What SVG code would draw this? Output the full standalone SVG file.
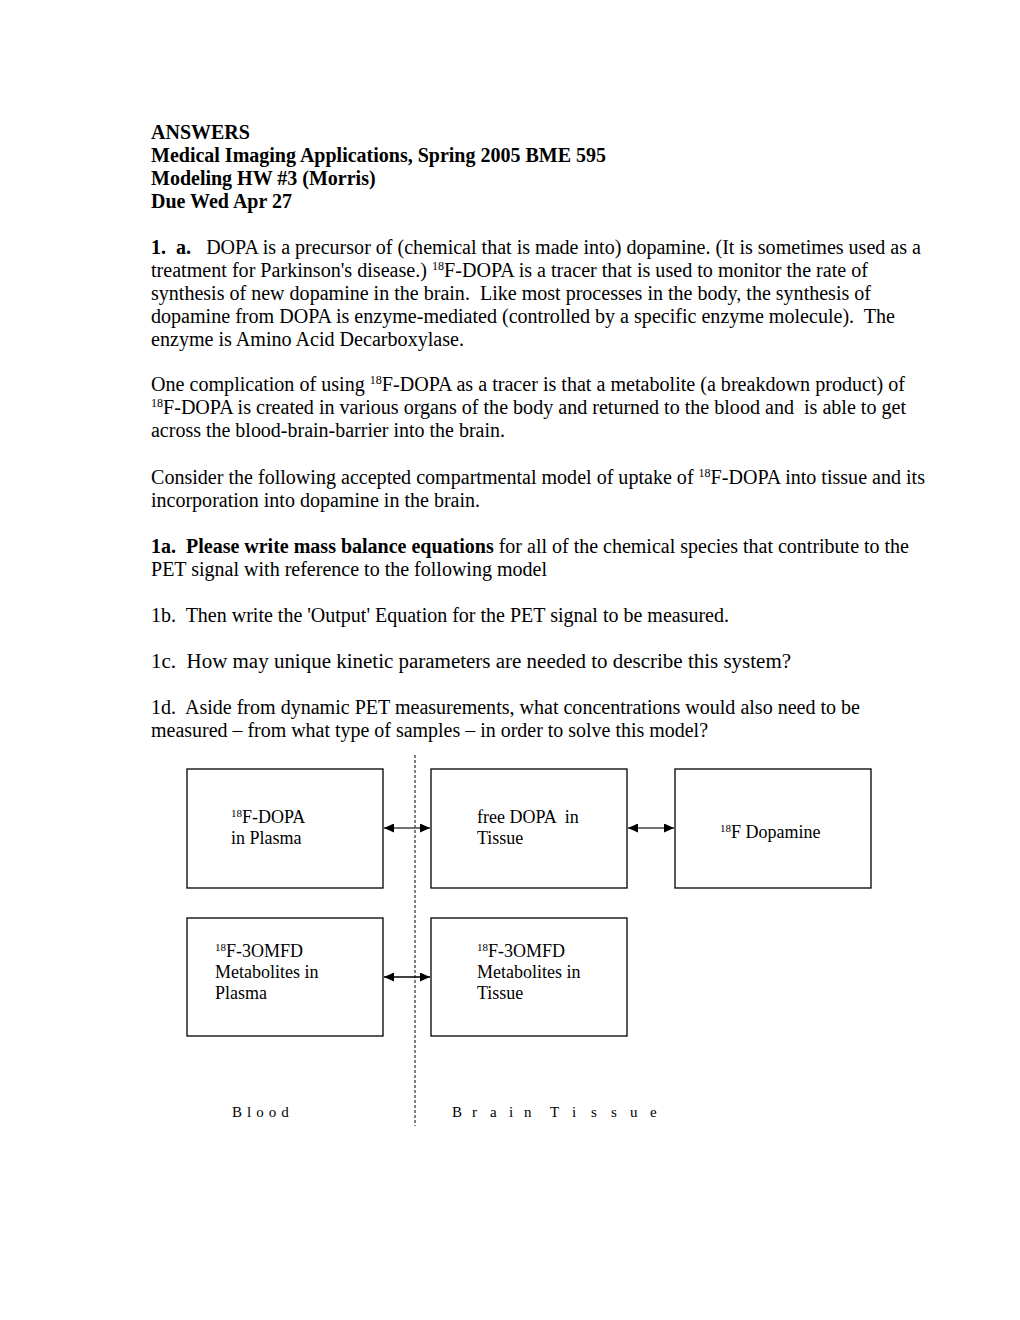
<svg xmlns="http://www.w3.org/2000/svg" width="1020" height="1320" viewBox="0 0 1020 1320">
<defs>
<style>
text{font-family:"Liberation Serif","Times New Roman",serif;fill:#000;white-space:pre}
.t{font-size:20px}
.b{font-weight:bold}
.s{font-size:12px}
.s2{font-size:11px}
.n{font-size:18px}
.box{fill:#fff;stroke:#000;stroke-width:1.3}
.con{stroke:#444;stroke-width:1.6;fill:none}
.sep{stroke:#000;stroke-width:1;stroke-dasharray:3,2;fill:none}
.lab{font-size:15px;letter-spacing:5px}
</style>
<marker id="ah" viewBox="0 0 10 10" refX="10" refY="5" markerWidth="10" markerHeight="9" orient="auto-start-reverse" markerUnits="userSpaceOnUse" preserveAspectRatio="none"><path d="M0,0 L10,5 L0,10 z" fill="#000"/></marker>
</defs>
<rect width="1020" height="1320" fill="#fff"/>
<g id="header" class="t b">
<text x="151" y="139">ANSWERS</text>
<text x="151" y="162">Medical Imaging Applications, Spring 2005 BME 595</text>
<text x="151" y="185">Modeling HW #3 (Morris)</text>
<text x="151" y="208">Due Wed Apr 27</text>
</g>
<g id="body" class="t" xml:space="preserve">
<text x="151" y="254" textLength="770" lengthAdjust="spacingAndGlyphs"><tspan class="b">1.  a.</tspan>   DOPA is a precursor of (chemical that is made into) dopamine. (It is sometimes used as a</text>
<text x="151" y="277" textLength="717" lengthAdjust="spacingAndGlyphs">treatment for Parkinson's disease.) <tspan class="s" dy="-7">18</tspan><tspan dy="7">F-DOPA is a tracer that is used to monitor the rate of</tspan></text>
<text x="151" y="300" textLength="720" lengthAdjust="spacingAndGlyphs">synthesis of new dopamine in the brain.  Like most processes in the body, the synthesis of</text>
<text x="151" y="323" textLength="744" lengthAdjust="spacingAndGlyphs">dopamine from DOPA is enzyme-mediated (controlled by a specific enzyme molecule).  The</text>
<text x="151" y="346" textLength="313" lengthAdjust="spacingAndGlyphs">enzyme is Amino Acid Decarboxylase.</text>
<text x="151" y="391" textLength="754" lengthAdjust="spacingAndGlyphs">One complication of using <tspan class="s" dy="-7">18</tspan><tspan dy="7">F-DOPA as a tracer is that a metabolite (a breakdown product) of</tspan></text>
<text x="151" y="414" textLength="755" lengthAdjust="spacingAndGlyphs"><tspan class="s" dy="-7">18</tspan><tspan dy="7">F-DOPA is created in various organs of the body and returned to the blood and  is able to get</tspan></text>
<text x="151" y="437" textLength="354" lengthAdjust="spacingAndGlyphs">across the blood-brain-barrier into the brain.</text>
<text x="151" y="484" textLength="774" lengthAdjust="spacingAndGlyphs">Consider the following accepted compartmental model of uptake of <tspan class="s" dy="-7">18</tspan><tspan dy="7">F-DOPA into tissue and its</tspan></text>
<text x="151" y="507" textLength="329" lengthAdjust="spacingAndGlyphs">incorporation into dopamine in the brain.</text>
<text x="151" y="553" textLength="758" lengthAdjust="spacingAndGlyphs"><tspan class="b">1a.  Please write mass balance equations</tspan> for all of the chemical species that contribute to the</text>
<text x="151" y="576" textLength="396" lengthAdjust="spacingAndGlyphs">PET signal with reference to the following model</text>
<text x="151" y="622" textLength="578" lengthAdjust="spacingAndGlyphs">1b.  Then write the 'Output' Equation for the PET signal to be measured.</text>
<text x="151" y="668" textLength="640" lengthAdjust="spacingAndGlyphs">1c.  How may unique kinetic parameters are needed to describe this system?</text>
<text x="151" y="714" textLength="709" lengthAdjust="spacingAndGlyphs">1d.  Aside from dynamic PET measurements, what concentrations would also need to be</text>
<text x="151" y="737" textLength="557" lengthAdjust="spacingAndGlyphs">measured – from what type of samples – in order to solve this model?</text>
</g>
<g id="connectors">
<line class="sep" x1="415" y1="755" x2="415" y2="1126"/>
<line class="con" x1="384" y1="828" x2="430" y2="828" marker-start="url(#ah)" marker-end="url(#ah)"/>
<line class="con" x1="628" y1="828" x2="674" y2="828" marker-start="url(#ah)" marker-end="url(#ah)"/>
<line class="con" x1="384" y1="977" x2="430" y2="977" marker-start="url(#ah)" marker-end="url(#ah)" style="stroke:#000"/>
</g>
<g id="node-fdopa-plasma">
<rect class="box" x="187" y="769" width="196" height="119"/>
<text class="n" x="231" y="823"><tspan class="s2" dy="-6">18</tspan><tspan dy="6">F-DOPA</tspan></text>
<text class="n" x="231" y="844">in Plasma</text>
</g>
<g id="node-dopa-tissue">
<rect class="box" x="431" y="769" width="196" height="119"/>
<text class="n" x="477" y="823">free DOPA  in</text>
<text class="n" x="477" y="844">Tissue</text>
</g>
<g id="node-dopamine">
<rect class="box" x="675" y="769" width="196" height="119"/>
<text class="n" x="720" y="838"><tspan class="s2" dy="-6">18</tspan><tspan dy="6">F Dopamine</tspan></text>
</g>
<g id="node-omfd-plasma">
<rect class="box" x="187" y="918" width="196" height="118"/>
<text class="n" x="215" y="957"><tspan class="s2" dy="-6">18</tspan><tspan dy="6">F-3OMFD</tspan></text>
<text class="n" x="215" y="978">Metabolites in</text>
<text class="n" x="215" y="999">Plasma</text>
</g>
<g id="node-omfd-tissue">
<rect class="box" x="431" y="918" width="196" height="118"/>
<text class="n" x="477" y="957"><tspan class="s2" dy="-6">18</tspan><tspan dy="6">F-3OMFD</tspan></text>
<text class="n" x="477" y="978">Metabolites in</text>
<text class="n" x="477" y="999">Tissue</text>
</g>
<g id="labels">
<text class="lab" x="232" y="1117">Blood</text>
<text class="lab" y="1117" style="letter-spacing:0"><tspan x="452 472 490 509 524">Brain</tspan> <tspan x="550 572 591 611 630 650">Tissue</tspan></text>
</g>
</svg>
